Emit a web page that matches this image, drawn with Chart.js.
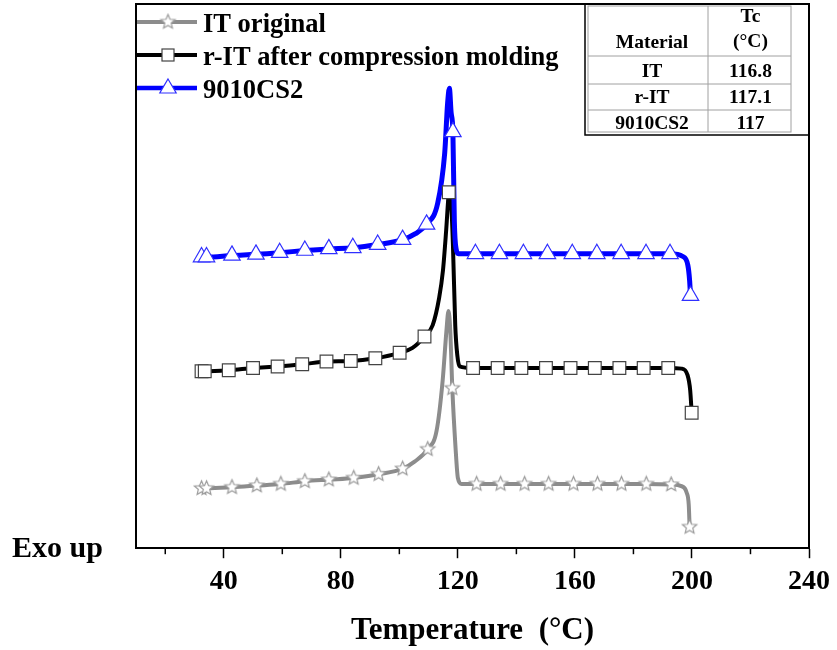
<!DOCTYPE html>
<html>
<head>
<meta charset="utf-8">
<script src="https://cdn.jsdelivr.net/npm/chart.js@4.4.1/dist/chart.umd.min.js"></script>
<style>
  html, body { margin: 0; padding: 0; background: #fff; }
  #wrap { width: 837px; height: 650px; }
</style>
</head>
<body>
<div id="wrap"><canvas id="dscChart" width="837" height="650"></canvas></div>
<script>
const serif = '"Liberation Serif", "Times New Roman", serif';

// x axis ticks (labelled / minor)
const xTicks = [40, 80, 120, 160, 200, 240];
const xMinorTicks = [20, 60, 100, 140, 180, 220];

// IT original (grey, stars)
const itX = [32.4, 34.1, 42.8, 51.3, 59.5, 67.7, 75.9, 84.4, 92.9, 101.1, 105.2, 109.7, 112.7, 114.8, 116.1, 116.8, 117.4, 118.1, 119.2, 120.0, 121.3, 126.4, 134.6, 142.8, 151.0, 159.5, 167.7, 175.9, 184.4, 192.9, 196.4, 198.2, 198.9, 199.2];
const itY = [11.0, 11.0, 11.2, 11.5, 11.8, 12.3, 12.6, 12.9, 13.6, 14.6, 15.9, 18.2, 21.5, 30.8, 40.0, 43.6, 40.0, 29.4, 18.5, 12.9, 11.8, 11.8, 11.8, 11.8, 11.8, 11.8, 11.8, 11.8, 11.8, 11.7, 11.4, 10.2, 8.0, 3.9];
const itMarkX = [32.4, 34.1, 42.8, 51.3, 59.5, 67.7, 75.9, 84.4, 92.9, 101.1, 109.7, 118.1, 126.4, 134.6, 142.8, 151.0, 159.5, 167.7, 175.9, 184.4, 192.9, 199.2];
const itMarkY = [11.0, 11.0, 11.2, 11.5, 11.8, 12.3, 12.6, 12.9, 13.6, 14.6, 18.2, 29.4, 11.8, 11.8, 11.8, 11.8, 11.8, 11.8, 11.8, 11.8, 11.7, 3.9];

// r-IT after compression molding (black, squares)
const ritX = [32.4, 33.5, 41.7, 50.0, 58.4, 66.8, 75.1, 83.4, 91.8, 100.1, 104.5, 108.6, 111.4, 113.6, 114.9, 116.0, 116.9, 117.2, 117.6, 118.3, 119.1, 119.8, 120.6, 125.2, 133.6, 141.7, 150.1, 158.5, 166.8, 175.2, 183.5, 191.9, 196.5, 198.5, 199.4, 199.9];
const ritY = [32.5, 32.5, 32.7, 33.1, 33.4, 33.8, 34.3, 34.4, 34.9, 35.9, 36.8, 38.9, 41.0, 46.0, 51.0, 58.4, 65.4, 66.2, 64.5, 56.0, 41.0, 35.5, 33.4, 33.1, 33.1, 33.1, 33.1, 33.1, 33.1, 33.1, 33.1, 33.1, 33.0, 31.8, 29.0, 24.9];
const ritMarkX = [32.4, 33.5, 41.7, 50.0, 58.4, 66.8, 75.1, 83.4, 91.8, 100.1, 108.6, 116.9, 125.2, 133.6, 141.7, 150.1, 158.5, 166.8, 175.2, 183.5, 191.9, 199.9];
const ritMarkY = [32.5, 32.5, 32.7, 33.1, 33.4, 33.8, 34.3, 34.4, 34.9, 35.9, 38.9, 65.4, 33.1, 33.1, 33.1, 33.1, 33.1, 33.1, 33.1, 33.1, 33.1, 24.9];

// 9010CS2 (blue, triangles)
const csX = [32.4, 34.1, 42.8, 51.0, 59.1, 67.7, 75.9, 84.1, 92.6, 101.1, 105.5, 109.3, 113.1, 115.5, 116.5, 117.1, 117.7, 118.3, 118.8, 119.4, 120.2, 126.0, 134.2, 142.4, 150.6, 159.1, 167.5, 175.8, 184.3, 192.5, 196.9, 198.6, 199.2, 199.5];
const csY = [53.5, 53.5, 53.8, 54.0, 54.3, 54.7, 55.0, 55.2, 55.8, 56.7, 57.8, 59.5, 63.4, 72.6, 81.8, 84.5, 80.0, 76.5, 60.0, 55.0, 54.1, 54.1, 54.1, 54.1, 54.1, 54.1, 54.1, 54.1, 54.1, 54.1, 53.6, 52.0, 49.2, 46.4];
const csMarkX = [32.4, 34.1, 42.8, 51.0, 59.1, 67.7, 75.9, 84.1, 92.6, 101.1, 109.3, 118.3, 126.0, 134.2, 142.4, 150.6, 159.1, 167.5, 175.8, 184.3, 192.5, 199.5];
const csMarkY = [53.5, 53.5, 53.8, 54.0, 54.3, 54.7, 55.0, 55.2, 55.8, 56.7, 59.5, 76.5, 54.1, 54.1, 54.1, 54.1, 54.1, 54.1, 54.1, 54.1, 54.1, 46.4];

// inset table
const tableMaterials = ["IT", "r-IT", "9010CS2"];
const tableTc = ["116.8", "117.1", "117"];

const seriesNames = ["IT original", "r-IT after compression molding", "9010CS2"];

function pts(xs, ys) {
  return xs.map((x, i) => ({ x: x, y: ys[i] }));
}

// open five point star used as marker for the grey curve
function makeStar(r, stroke) {
  const c = document.createElement("canvas");
  const s = Math.ceil(r * 2 + 4);
  c.width = s; c.height = s;
  const g = c.getContext("2d");
  g.beginPath();
  for (let i = 0; i < 10; i++) {
    const a = -Math.PI / 2 + i * Math.PI / 5;
    const rr = i % 2 ? r * 0.45 : r;
    g.lineTo(s / 2 + rr * Math.cos(a), s / 2 + rr * Math.sin(a));
  }
  g.closePath();
  g.fillStyle = "#fff";
  g.fill();
  g.strokeStyle = stroke;
  g.lineWidth = 1.2;
  g.stroke();
  return c;
}
const starImg = makeStar(7.5, "#9a9a9a");

const lineColors = ["#8c8c8c", "#000000", "#0000ff"];

const extras = {
  id: "extras",
  afterDraw(chart) {
    const ctx = chart.ctx;
    const a = chart.chartArea;
    const xs = chart.scales.x;
    ctx.save();

    // frame (top, left, right)
    ctx.strokeStyle = "#000";
    ctx.lineWidth = 2;
    ctx.beginPath();
    ctx.moveTo(a.left, a.bottom);
    ctx.lineTo(a.left, a.top);
    ctx.lineTo(a.right, a.top);
    ctx.lineTo(a.right, a.bottom);
    ctx.stroke();

    // minor ticks
    ctx.lineWidth = 1.5;
    xMinorTicks.forEach(v => {
      const px = xs.getPixelForValue(v);
      ctx.beginPath();
      ctx.moveTo(px, a.bottom);
      ctx.lineTo(px, a.bottom + 6);
      ctx.stroke();
    });

    // Exo up
    ctx.fillStyle = "#000";
    ctx.font = "bold 30px " + serif;
    ctx.textAlign = "left";
    ctx.textBaseline = "alphabetic";
    ctx.fillText("Exo up", 12, 557);

    // legend
    const legY = [22, 55, 88];
    ctx.font = "bold 26.5px " + serif;
    seriesNames.forEach((name, i) => {
      ctx.strokeStyle = lineColors[i];
      ctx.lineWidth = i === 2 ? 4.5 : 4;
      ctx.beginPath();
      ctx.moveTo(a.left + 1, legY[i]);
      ctx.lineTo(a.left + 61, legY[i]);
      ctx.stroke();
      const mx = a.left + 32;
      if (i === 0) {
        ctx.drawImage(starImg, mx - starImg.width / 2, legY[i] - starImg.height / 2);
      } else if (i === 1) {
        ctx.fillStyle = "#fff";
        ctx.strokeStyle = "#444";
        ctx.lineWidth = 1.2;
        ctx.fillRect(mx - 6, legY[i] - 6, 12, 12);
        ctx.strokeRect(mx - 6, legY[i] - 6, 12, 12);
      } else {
        ctx.fillStyle = "#fff";
        ctx.strokeStyle = "#3030ff";
        ctx.lineWidth = 1.2;
        ctx.beginPath();
        ctx.moveTo(mx, legY[i] - 9);
        ctx.lineTo(mx + 8.2, legY[i] + 5);
        ctx.lineTo(mx - 8.2, legY[i] + 5);
        ctx.closePath();
        ctx.fill();
        ctx.stroke();
      }
      ctx.fillStyle = "#000";
      ctx.fillText(name, 203, legY[i] + 10);
    });

    // inset table
    ctx.strokeStyle = "#000";
    ctx.lineWidth = 1.5;
    ctx.strokeRect(585, a.top, a.right - 585, 131);
    ctx.strokeStyle = "#a0a0a0";
    ctx.lineWidth = 1;
    const tl = 588, tr = 791, tt = 6, tb = 132, colX = 708;
    const rowLines = [56, 84, 110];
    ctx.strokeRect(tl, tt, tr - tl, tb - tt);
    ctx.beginPath();
    ctx.moveTo(colX, tt); ctx.lineTo(colX, tb);
    rowLines.forEach(y => { ctx.moveTo(tl, y); ctx.lineTo(tr, y); });
    ctx.stroke();

    ctx.fillStyle = "#000";
    ctx.font = "bold 19.5px " + serif;
    ctx.textAlign = "center";
    const c1 = (tl + colX) / 2 + 4, c2 = (colX + tr) / 2 + 1;
    ctx.fillText("Material", c1, 48);
    ctx.fillText("Tc", c2, 22);
    ctx.fillText("(°C)", c2, 47);
    const rowBase = [77, 103, 129];
    tableMaterials.forEach((m, i) => {
      ctx.fillText(m, c1, rowBase[i]);
      ctx.fillText(tableTc[i], c2, rowBase[i]);
    });

    ctx.restore();
  }
};

const lineDefaults = {
  pointRadius: 0,
  cubicInterpolationMode: "monotone",
  fill: false
};

new Chart(document.getElementById("dscChart").getContext("2d"), {
  type: "line",
  data: {
    datasets: [
      { ...lineDefaults, label: seriesNames[0], data: pts(itX, itY), borderColor: lineColors[0], borderWidth: 4, order: 6 },
      { ...lineDefaults, label: seriesNames[1], data: pts(ritX, ritY), borderColor: lineColors[1], borderWidth: 4, order: 5 },
      { ...lineDefaults, label: seriesNames[2], data: pts(csX, csY), borderColor: lineColors[2], borderWidth: 5, order: 4 },
      {
        label: "IT markers", data: pts(itMarkX, itMarkY), showLine: false,
        pointStyle: starImg, pointRadius: 8, order: 3
      },
      {
        label: "r-IT markers", data: pts(ritMarkX, ritMarkY), showLine: false,
        pointStyle: "rect", pointRadius: 9, pointBackgroundColor: "#fff",
        pointBorderColor: "#444", pointBorderWidth: 1.2, order: 2
      },
      {
        label: "9010CS2 markers", data: pts(csMarkX, csMarkY), showLine: false,
        pointStyle: "triangle", pointRadius: 9.5, pointBackgroundColor: "#fff",
        pointBorderColor: "#3030ff", pointBorderWidth: 1.2, order: 1
      }
    ]
  },
  options: {
    responsive: false,
    animation: false,
    layout: { autoPadding: false, padding: { left: 136, right: 27, top: 4, bottom: 0 } },
    plugins: {
      legend: { display: false },
      tooltip: { enabled: false }
    },
    scales: {
      x: {
        type: "linear",
        min: 10,
        max: 240,
        afterBuildTicks: scale => { scale.ticks = xTicks.map(v => ({ value: v })); },
        ticks: {
          color: "#000",
          font: { family: serif, size: 28, weight: "bold" },
          padding: 7,
          maxRotation: 0,
          autoSkip: false
        },
        grid: {
          drawOnChartArea: false,
          drawTicks: true,
          tickLength: 10,
          tickColor: "#000",
          tickWidth: 1.5
        },
        border: { color: "#000", width: 2 },
        title: {
          display: true,
          text: "Temperature  (°C)",
          color: "#000",
          font: { family: serif, size: 31, weight: "bold" },
          padding: { top: 7, bottom: 0 }
        }
      },
      y: { display: false, min: 0, max: 100 }
    }
  },
  plugins: [extras]
});
</script>
</body>
</html>
